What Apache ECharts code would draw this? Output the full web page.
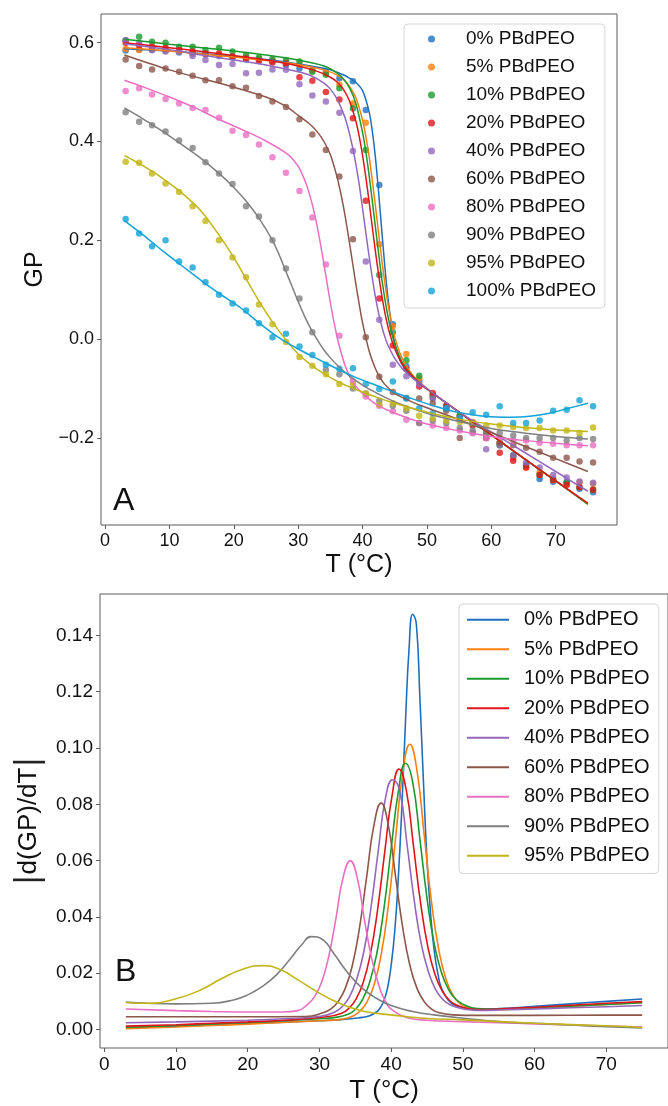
<!DOCTYPE html>
<html><head><meta charset="utf-8">
<script src="https://cdn.jsdelivr.net/npm/echarts@6/dist/echarts.min.js"></script>
<style>html,body{margin:0;padding:0;background:#fff}#c{width:668px;height:1106px}</style>
</head><body><div id="c"></div>
<script>
const names = ['0% PBdPEO','5% PBdPEO','10% PBdPEO','20% PBdPEO','40% PBdPEO','60% PBdPEO','80% PBdPEO','90% PBdPEO','95% PBdPEO','100% PBdPEO'];
const colors = ['#1f6fbf','#ff7f0e','#1a9a2e','#e0151b','#9467bd','#8c564b','#ea6fc3','#7f7f7f','#c2b517','#12a3d6'];

// Panel A: measured temperatures (°C)
const T_A = [3.2,5.3,7.3,9.4,11.5,13.6,15.6,17.7,19.8,21.9,23.9,26.0,28.1,30.2,32.2,34.3,36.4,38.5,40.5,42.6,44.7,46.8,48.8,50.9,53.0,55.1,57.1,59.2,61.3,63.4,65.4,67.5,69.6,71.7,73.7,75.8];
// Panel A: measured GP points
const gp0   = [0.584,0.586,0.585,0.584,0.58,0.578,0.576,0.573,0.57,0.566,0.566,0.562,0.555,0.548,0.545,0.54,0.528,0.522,0.464,0.312,0.03,-0.055,-0.085,-0.118,-0.14,-0.155,-0.172,-0.19,-0.21,-0.238,-0.255,-0.283,-0.289,-0.29,-0.303,-0.31];
const gp5   = [0.587,0.585,0.588,0.585,0.582,0.58,0.577,0.575,0.572,0.57,0.567,0.564,0.56,0.556,0.543,0.538,0.515,0.477,0.438,0.192,0.026,-0.03,-0.079,-0.115,-0.135,-0.155,-0.168,-0.19,-0.21,-0.24,-0.26,-0.27,-0.285,-0.295,-0.29,-0.293];
const gp10  = [0.605,0.612,0.602,0.6,0.592,0.592,0.585,0.59,0.582,0.575,0.57,0.567,0.565,0.562,0.541,0.535,0.508,0.467,0.383,0.13,0.014,-0.043,-0.074,-0.113,-0.135,-0.155,-0.17,-0.19,-0.215,-0.235,-0.255,-0.275,-0.283,-0.29,-0.3,-0.305];
const gp20  = [0.6,0.595,0.592,0.59,0.585,0.582,0.578,0.578,0.572,0.568,0.563,0.56,0.558,0.53,0.523,0.5,0.485,0.447,0.28,0.082,-0.013,-0.061,-0.096,-0.109,-0.136,-0.16,-0.175,-0.2,-0.23,-0.246,-0.26,-0.275,-0.285,-0.295,-0.3,-0.305];
const gp40  = [0.605,0.599,0.585,0.582,0.582,0.573,0.565,0.555,0.557,0.538,0.539,0.546,0.545,0.516,0.493,0.481,0.458,0.381,0.157,0.039,-0.052,-0.075,-0.091,-0.12,-0.14,-0.16,-0.19,-0.223,-0.215,-0.235,-0.25,-0.26,-0.275,-0.28,-0.288,-0.291];
const gp60  = [0.566,0.553,0.546,0.548,0.541,0.533,0.524,0.524,0.512,0.509,0.492,0.481,0.47,0.445,0.414,0.383,0.329,0.202,0.004,-0.076,-0.107,-0.119,-0.12,-0.13,-0.145,-0.2,-0.17,-0.2,-0.21,-0.215,-0.22,-0.228,-0.24,-0.24,-0.248,-0.25];
const gp80  = [0.502,0.508,0.495,0.486,0.477,0.468,0.464,0.448,0.422,0.413,0.394,0.368,0.337,0.3,0.246,0.151,0.007,-0.086,-0.116,-0.135,-0.146,-0.163,-0.17,-0.175,-0.18,-0.185,-0.19,-0.2,-0.2,-0.205,-0.205,-0.21,-0.212,-0.215,-0.215,-0.215];
const gp90  = [0.459,0.44,0.433,0.42,0.402,0.387,0.358,0.335,0.314,0.269,0.248,0.2,0.143,0.082,0.014,-0.062,-0.071,-0.1,-0.11,-0.125,-0.135,-0.145,-0.17,-0.165,-0.17,-0.18,-0.185,-0.19,-0.19,-0.195,-0.2,-0.2,-0.2,-0.205,-0.2,-0.202];
const gp95  = [0.359,0.357,0.335,0.315,0.298,0.269,0.239,0.2,0.165,0.125,0.07,0.03,-0.006,-0.036,-0.054,-0.071,-0.091,-0.092,-0.11,-0.133,-0.13,-0.14,-0.155,-0.16,-0.165,-0.168,-0.17,-0.175,-0.175,-0.178,-0.18,-0.18,-0.185,-0.185,-0.19,-0.179];
const gp100 = [0.243,0.214,0.188,0.2,0.157,0.145,0.115,0.09,0.072,0.058,0.032,0.004,0.011,-0.015,-0.032,-0.052,-0.06,-0.059,-0.091,-0.101,-0.086,-0.12,-0.14,-0.15,-0.14,-0.16,-0.148,-0.153,-0.136,-0.17,-0.17,-0.165,-0.145,-0.143,-0.124,-0.136];

// Panel A: fitted curves [T, GP]
const fit0 = [[3,0.588],[10,0.583],[15,0.578],[20,0.572],[25,0.566],[30,0.557],[35,0.545],[37,0.535],[38,0.528],[39,0.519],[40,0.503],[41,0.461],[41.5,0.422],[42,0.367],[42.5,0.296],[43,0.217],[43.5,0.141],[44,0.077],[44.5,0.028],[45,-0.007],[45.5,-0.031],[46,-0.048],[47,-0.068],[48,-0.081],[50,-0.101],[55,-0.148],[60,-0.194],[65,-0.241],[70,-0.287],[75,-0.334]];
const fit5 = [[3,0.59],[10,0.583],[15,0.577],[20,0.571],[25,0.564],[30,0.556],[34,0.545],[36,0.535],[37,0.526],[38,0.511],[39,0.487],[40,0.4435],[40.5,0.411],[41,0.371],[41.5,0.322],[42,0.269],[42.5,0.213],[43,0.159],[43.5,0.11],[44,0.067],[44.5,0.033],[45,0.004],[46,-0.035],[47,-0.059],[48,-0.076],[49,-0.089],[50,-0.1],[55,-0.148],[60,-0.194],[65,-0.241],[70,-0.287],[75,-0.334]];
const fit10 = [[3,0.607],[10,0.597],[15,0.59],[20,0.583],[25,0.575],[30,0.565],[34,0.553],[36,0.539],[37,0.527],[38,0.508],[39,0.475],[40,0.418],[40.5,0.38],[41,0.333],[41.5,0.281],[42,0.226],[42.5,0.172],[43,0.121],[43.5,0.078],[44,0.042],[44.5,0.013],[45,-0.01],[46,-0.043],[47,-0.063],[48,-0.078],[49,-0.09],[50,-0.101],[55,-0.148],[60,-0.194],[65,-0.241],[70,-0.287],[75,-0.334]];
const fit20 = [[3,0.6],[10,0.59],[15,0.582],[20,0.574],[25,0.565],[30,0.553],[33,0.542],[35,0.53],[36,0.521],[37,0.506],[38,0.481],[39,0.439],[39.5,0.409],[40,0.372],[40.5,0.328],[41,0.28],[41.5,0.228],[42,0.177],[42.5,0.13],[43,0.087],[43.5,0.051],[44,0.022],[44.5,-0.001],[45,-0.02],[46,-0.047],[47,-0.065],[48,-0.079],[49,-0.091],[50,-0.101],[55,-0.148],[60,-0.194],[65,-0.241],[70,-0.287],[75,-0.332]];
const fit40 = [[3,0.598],[10,0.586],[15,0.575],[20,0.565],[25,0.555],[30,0.541],[32,0.533],[34,0.518],[35,0.506],[36,0.487],[37,0.458],[37.5,0.439],[38,0.414],[38.5,0.385],[39,0.351],[39.5,0.311],[40,0.264],[40.5,0.216],[41,0.169],[41.5,0.125],[42,0.085],[42.5,0.052],[43,0.025],[43.5,0.003],[44,-0.014],[45,-0.039],[46,-0.057],[47,-0.07],[48,-0.081],[50,-0.1],[55,-0.148],[60,-0.188],[65,-0.228],[70,-0.268],[75,-0.308]];
const fit60 = [[3,0.575],[10,0.545],[20,0.51],[25,0.49],[28,0.472],[30,0.453],[32,0.433],[33,0.419],[34,0.4],[35,0.373],[36,0.33],[36.5,0.302],[37,0.27],[37.5,0.233],[38,0.192],[38.5,0.15],[39,0.108],[39.5,0.069],[40,0.033],[41,-0.023],[42,-0.06],[43,-0.084],[44,-0.099],[45,-0.11],[46,-0.117],[48,-0.129],[50,-0.139],[55,-0.163],[60,-0.189],[65,-0.216],[70,-0.242],[75,-0.268]];
const fit80 = [[3,0.524],[6,0.51],[10,0.49],[14,0.468],[18,0.443],[22,0.42],[25,0.401],[28.3,0.375],[29.3,0.362],[30.3,0.343],[31.3,0.312],[31.8,0.291],[32.3,0.267],[32.8,0.238],[33.3,0.204],[33.8,0.167],[34.3,0.128],[34.8,0.089],[35.3,0.052],[35.8,0.019],[36.3,-0.01],[37.3,-0.054],[38.3,-0.083],[39.3,-0.101],[40.3,-0.113],[42,-0.131],[45,-0.15],[50,-0.172],[55,-0.186],[60,-0.197],[65,-0.205],[70,-0.211],[75,-0.216]];
const fit90 = [[3,0.468],[6,0.445],[9,0.42],[12,0.393],[15,0.365],[18,0.332],[20,0.307],[22,0.278],[24,0.243],[26,0.2],[27,0.172],[28,0.14],[29,0.108],[30,0.076],[31,0.046],[32,0.02],[33,-0.002],[34,-0.022],[35,-0.038],[36,-0.052],[38,-0.075],[40,-0.093],[42,-0.108],[45,-0.127],[50,-0.15],[55,-0.167],[60,-0.181],[65,-0.19],[70,-0.197],[75,-0.202]];
const fit95 = [[3,0.372],[6,0.35],[9,0.325],[12,0.295],[15,0.258],[18,0.205],[20,0.165],[22,0.12],[24,0.075],[26,0.035],[28,0.0],[30,-0.03],[32,-0.052],[34,-0.07],[36,-0.085],[38,-0.097],[40,-0.107],[42,-0.117],[45,-0.13],[50,-0.148],[55,-0.162],[60,-0.172],[65,-0.179],[70,-0.184],[75,-0.187]];
const fit100 = [[3,0.24],[6,0.21],[9,0.178],[12,0.148],[15,0.118],[18,0.09],[21,0.064],[24,0.032],[27,0.003],[30,-0.02],[33,-0.04],[36,-0.06],[39,-0.078],[42,-0.093],[45,-0.108],[48,-0.122],[51,-0.135],[54,-0.146],[57,-0.153],[60,-0.157],[63,-0.158],[66,-0.156],[69,-0.15],[72,-0.14],[75,-0.13]];

// Panel B: |d(GP)/dT| curves [T, value]
const d0 = [[3,0.0005],[10,0.0011],[15,0.0016],[20,0.0021],[25,0.0026],[30,0.0031],[33,0.0035],[35,0.004],[36,0.0043],[37,0.0049],[38,0.0063],[38.5,0.0078],[39,0.0103],[39.5,0.0148],[40,0.0229],[40.5,0.035],[41,0.0541],[41.5,0.0795],[42,0.1096],[42.5,0.1355],[43,0.1475],[43.5,0.1443],[44,0.118],[44.5,0.088],[45,0.06],[45.5,0.041],[46,0.028],[46.5,0.02],[47,0.0148],[48,0.0103],[49,0.0085],[50,0.0078],[52,0.0072],[55,0.0074],[60,0.0082],[65,0.0091],[70,0.01],[75,0.0108]];
const d5 = [[3,0.0003],[10,0.0009],[15,0.0014],[20,0.0019],[25,0.0025],[30,0.0031],[33,0.0036],[34.6,0.0047],[35.6,0.0064],[36.6,0.0096],[37.6,0.0157],[38.6,0.0265],[39.6,0.0439],[40.6,0.0676],[41.6,0.0909],[42.6,0.1013],[43.6,0.0919],[44.6,0.0691],[45.6,0.0458],[46.6,0.0288],[47.6,0.0182],[48.6,0.0122],[49.6,0.0092],[50.6,0.0078],[52,0.0069],[55,0.007],[60,0.0075],[65,0.0082],[70,0.0089],[75,0.0096]];
const d10 = [[3,0.0008],[10,0.0014],[15,0.002],[20,0.0025],[25,0.0031],[30,0.0038],[32,0.0042],[34,0.0054],[35,0.0071],[36,0.0106],[37,0.0168],[38,0.027],[39,0.0431],[40,0.0643],[41,0.0845],[42,0.0946],[43,0.0879],[44,0.0677],[45,0.0466],[46,0.0305],[47,0.0203],[48,0.0142],[49,0.0108],[50,0.009],[52,0.0074],[55,0.0072],[60,0.0077],[65,0.0083],[70,0.0089],[75,0.0095]];
const d20 = [[3,0.0012],[10,0.0017],[15,0.0022],[20,0.0027],[25,0.0033],[31,0.0045],[33.1,0.0058],[34.1,0.0075],[35.1,0.0108],[36.1,0.0167],[37.1,0.0268],[38.1,0.0424],[39.1,0.063],[40.1,0.0826],[41.1,0.0925],[42.1,0.0851],[43.1,0.0654],[44.1,0.045],[45.1,0.0295],[46.1,0.0196],[47.1,0.0137],[48.1,0.0104],[49.1,0.0087],[51,0.0073],[53,0.0071],[55,0.0073],[60,0.0079],[65,0.0086],[70,0.0093],[75,0.0099]];
const d40 = [[3,0.0024],[10,0.0027],[20,0.0033],[25,0.0038],[30.2,0.0047],[32.2,0.0063],[33.2,0.0082],[34.2,0.0117],[35.2,0.0179],[36.2,0.0278],[37.2,0.0436],[38.2,0.0635],[39.2,0.0821],[40.2,0.0887],[41.2,0.0846],[42.2,0.066],[43.2,0.0461],[44.2,0.0303],[45.2,0.0204],[46.2,0.0142],[47.2,0.0107],[48.2,0.0088],[50.2,0.0072],[52,0.0068],[55,0.0069],[60,0.0073],[65,0.0077],[70,0.0081],[75,0.0085]];
const d60 = [[3,0.0045],[10,0.0045],[20,0.0045],[28,0.0046],[30.6,0.006],[31.6,0.0073],[32.6,0.0099],[33.6,0.0146],[34.6,0.0229],[35.6,0.0364],[36.6,0.0546],[37.6,0.0726],[38.6,0.0804],[39.6,0.0726],[40.6,0.0546],[41.6,0.0364],[42.6,0.0229],[43.6,0.0146],[44.6,0.0099],[45.6,0.0073],[46.6,0.006],[48.6,0.0052],[52,0.005],[60,0.005],[70,0.0051],[75,0.0051]];
const d80 = [[3,0.0073],[10,0.0067],[15,0.0064],[20,0.0062],[25,0.0062],[27,0.0067],[28.3,0.0088],[29.3,0.0116],[30.3,0.0168],[31.3,0.026],[32.3,0.0395],[33.3,0.054],[34.3,0.0599],[35.3,0.0535],[36.3,0.0385],[37.3,0.025],[38.3,0.0155],[39.3,0.0095],[40.3,0.0067],[42.3,0.0042],[45,0.0033],[50,0.0028],[55,0.0024],[60,0.002],[65,0.0016],[70,0.0012],[75,0.0009]];
const d90 = [[3,0.0097],[6,0.0093],[10,0.0091],[15,0.0093],[18,0.0105],[20,0.0123],[22,0.0152],[24,0.0194],[26,0.0253],[27.5,0.03],[28.9,0.033],[30.5,0.0318],[32,0.027],[34,0.02],[36,0.0146],[38,0.011],[40,0.0085],[43,0.0064],[46,0.0052],[50,0.004],[55,0.0028],[60,0.0022],[65,0.0016],[70,0.001],[75,0.0005]];
const d95 = [[3,0.0096],[6.3,0.0093],[10.1,0.011],[13.4,0.014],[16.3,0.018],[19.3,0.0214],[22.2,0.0227],[24.6,0.0212],[26.9,0.0178],[29.3,0.014],[31.6,0.0107],[34,0.0081],[36.3,0.0064],[39.9,0.0052],[44.6,0.004],[50,0.0034],[60,0.0022],[70,0.0013],[75,0.0007]];

const xTicks = [0,10,20,30,40,50,60,70];
const yTicksA = [-0.2,0,0.2,0.4,0.6];
const yTickLabelsA = ['\u22120.2','0.0','0.2','0.4','0.6'];
const yTicksB = [0,0.02,0.04,0.06,0.08,0.1,0.12,0.14];
const yTickLabelsB = ['0.00','0.02','0.04','0.06','0.08','0.10','0.12','0.14'];

const gpSeries = [gp0,gp5,gp10,gp20,gp40,gp60,gp80,gp90,gp95,gp100];
const fitSeries = [fit0,fit5,fit10,fit20,fit40,fit60,fit80,fit90,fit95,fit100];
const dSeries = [d0,d5,d10,d20,d40,d60,d80,d90,d95];

const FONT = 'Liberation Sans, Arial, Helvetica, sans-serif';
const frame = '#5c5c5c';

function axisCommon(ticks, labels, fs) {
  return {
    axisLine: {show: false, onZero: false},
    axisTick: {show: true, inside: false, length: 4, customValues: ticks, lineStyle: {color: frame, width: 1}},
    axisLabel: {customValues: ticks, fontSize: fs, fontFamily: FONT, color: '#111', margin: 7,
      formatter: v => { const i = ticks.findIndex(t => Math.abs(t - v) < 1e-9); return i >= 0 ? labels[i] : ''; }},
    splitLine: {show: false}
  };
}

const series = [];
gpSeries.forEach((arr, i) => {
  series.push({type: 'scatter', name: names[i], xAxisIndex: 0, yAxisIndex: 0, symbolSize: 6.5,
    itemStyle: {color: colors[i]}, data: T_A.map((t, j) => [t, arr[j]]), z: 2});
});
fitSeries.forEach((arr, i) => {
  series.push({type: 'line', name: 'fit' + i, xAxisIndex: 0, yAxisIndex: 0, showSymbol: false, symbol: 'none',
    smooth: 0.3, lineStyle: {color: colors[i], width: 1.5}, data: arr, z: 3});
});
dSeries.forEach((arr, i) => {
  series.push({type: 'line', name: 'B:' + names[i], xAxisIndex: 1, yAxisIndex: 1, showSymbol: false, symbol: 'none',
    smooth: 0.5, itemStyle: {color: colors[i]}, lineStyle: {color: colors[i], width: 1.6}, data: arr});
});

const chart = echarts.init(document.getElementById('c'), null, {renderer: 'canvas'});
chart.setOption({
  animation: false,
  backgroundColor: '#fff',
  grid: [
    {left: 101, top: 14, width: 516, height: 511, show: true, borderColor: frame, borderWidth: 1, backgroundColor: 'transparent'},
    {left: 100, top: 594, width: 573, height: 454, show: true, borderColor: frame, borderWidth: 1, backgroundColor: 'transparent'}
  ],
  xAxis: [
    Object.assign({type: 'value', gridIndex: 0, position: 'bottom', min: -0.63, max: 79.52, name: 'T (°C)', nameLocation: 'middle', nameGap: 28,
      nameTextStyle: {fontSize: 25, fontFamily: FONT, color: '#111'}}, axisCommon(xTicks, xTicks.map(String), 18)),
    Object.assign({type: 'value', gridIndex: 1, position: 'bottom', min: -0.6, max: 78.6, name: 'T (°C)', nameLocation: 'middle', nameGap: 30,
      nameTextStyle: {fontSize: 26, fontFamily: FONT, color: '#111'}}, axisCommon(xTicks, xTicks.map(String), 19))
  ],
  yAxis: [
    Object.assign({type: 'value', gridIndex: 0, position: 'left', min: -0.3763, max: 0.6581, name: 'GP', nameLocation: 'middle', nameGap: 42,
      nameTextStyle: {fontSize: 25, fontFamily: FONT, color: '#111'}}, axisCommon(yTicksA, yTickLabelsA, 18)),
    Object.assign({type: 'value', gridIndex: 1, position: 'left', min: -0.00658, max: 0.1547,
      name: '{bar||}d(GP)/dT{bar||}', nameLocation: 'middle', nameGap: 52,
      nameTextStyle: {fontSize: 26, fontFamily: FONT, color: '#111',
        rich: {bar: {fontSize: 32, fontFamily: 'DejaVu Sans, sans-serif', color: '#222'}}}}, axisCommon(yTicksB, yTickLabelsB, 19))
  ],
  legend: [
    {data: names, left: 404, top: 24, orient: 'vertical', icon: 'circle', itemWidth: 7, itemHeight: 7, itemGap: 0,
      textStyle: {fontSize: 19, fontFamily: FONT, color: '#111', lineHeight: 28, padding: [0, 0, 0, 26]},
      padding: [1, 9, 3, 24], backgroundColor: 'rgba(255,255,255,0.85)', borderColor: '#d6d6d6', borderWidth: 1, borderRadius: 4},
    {data: names.slice(0, 9).map(n => 'B:' + n), formatter: n => n.slice(2), left: 459, top: 604, orient: 'vertical',
      icon: 'rect', itemWidth: 42, itemHeight: 2, itemGap: 0,
      textStyle: {fontSize: 20, fontFamily: FONT, color: '#111', lineHeight: 29.5, padding: [0, 0, 0, 10]},
      padding: [1, 9, 3, 8], backgroundColor: 'rgba(255,255,255,0.85)', borderColor: '#d6d6d6', borderWidth: 1, borderRadius: 4}
  ],
  title: [
    {text: 'A', left: 113, top: 485, padding: 0, textStyle: {fontSize: 32, fontWeight: 'normal', fontFamily: FONT, color: '#111'}},
    {text: 'B', left: 115, top: 956, padding: 0, textStyle: {fontSize: 32, fontWeight: 'normal', fontFamily: FONT, color: '#111'}}
  ],
  series: series
});
</script></body></html>
